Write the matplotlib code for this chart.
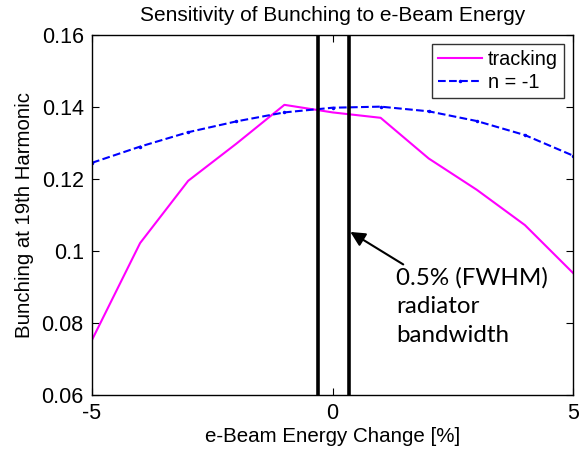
import matplotlib
matplotlib.use("Agg")
import matplotlib.pyplot as plt
import numpy as np

# energy change [%]
energy = [-5, -4, -3, -2, -1, 0, 1, 2, 3, 4, 5]
tracking = [0.0753, 0.1022, 0.1195, 0.1298, 0.1406, 0.1385, 0.1370, 0.1257, 0.1170, 0.1072, 0.0939]
n_minus_1 = [0.1245, 0.1290, 0.1330, 0.1360, 0.1385, 0.1398, 0.1401, 0.1388, 0.1361, 0.1322, 0.1265]
bandwidth_edges = [-0.31, 0.34]

plt.rcParams['font.family'] = ['Liberation Sans', 'DejaVu Sans']
plt.rcParams['axes.unicode_minus'] = False

fig = plt.figure(figsize=(5.81, 4.49), dpi=100)
ax = fig.add_axes([92/581, 1-395/449, 481/581, 360/449])

ax.plot(energy, tracking, color='#ff00ff', linewidth=1.5, label='tracking')
ax.plot(energy, n_minus_1, color='#0000ff', linestyle='--', linewidth=1.5,
        marker='.', markersize=3, label='n = -1')

for xv in bandwidth_edges:
    ax.axvline(xv, color='black', linewidth=2.6)

ax.annotate('0.5% (FWHM)\nradiator\nbandwidth', xy=(0.37, 0.1053), xytext=(1.32, 0.0955),
            fontsize=17.4, family=['Lato', 'DejaVu Sans'], ha='left', va='top',
            linespacing=1.45,
            arrowprops=dict(arrowstyle='-|>', color='black', lw=1.5, mutation_scale=22,
                            shrinkA=0, shrinkB=0))

ax.set_xlim(-5, 5)
ax.set_ylim(0.06, 0.16)
ax.set_xticks([-5, 0, 5])
ax.set_yticks([0.06, 0.08, 0.1, 0.12, 0.14, 0.16])
ax.set_yticklabels(['0.06', '0.08', '0.1', '0.12', '0.14', '0.16'])
ax.tick_params(direction='in', top=True, right=True, labelsize=15.5, length=5, width=0.8, pad=6)
for s in ax.spines.values():
    s.set_linewidth(1.0)

ax.set_title('Sensitivity of Bunching to e-Beam Energy', fontsize=15, pad=10)
ax.set_xlabel('e-Beam Energy Change [%]', fontsize=14.8, labelpad=2)
ax.set_ylabel('Bunching at 19th Harmonic', fontsize=14.7, labelpad=5)

leg = ax.legend(loc='upper right', fontsize=14.3, frameon=True, fancybox=False,
                edgecolor='black', handlelength=2.2, borderpad=0.3, labelspacing=0.2,
                handletextpad=0.3, borderaxespad=0.45)
leg.get_frame().set_linewidth(1.0)

fig.savefig('out.png', dpi=100)
